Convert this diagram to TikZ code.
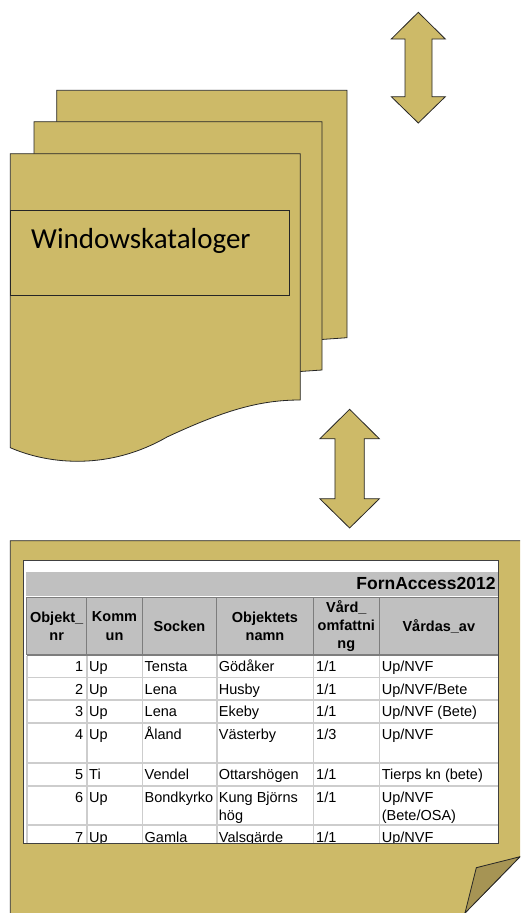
\documentclass[tikz,border=0pt]{standalone}
\usepackage{fontspec}
\usepackage{tikz}

\newfontfamily\tabfamily{Liberation Sans}
\newfontfamily\winfamily{Carlito}
\newcommand\tabfont{\tabfamily\fontsize{14.5}{18.3}\selectfont}
\newcommand\headfont{\tabfamily\bfseries\fontsize{14.5}{18.3}\selectfont}
\newcommand\titlefont{\tabfamily\bfseries\fontsize{17.5}{20}\selectfont}

\definecolor{gold}{RGB}{205,186,104}
\definecolor{golddark}{RGB}{166,148,84}
\definecolor{hdrgray}{RGB}{192,192,192}
\definecolor{gridgray}{RGB}{205,205,205}
\definecolor{hdrline}{RGB}{125,125,125}

\begin{document}
\begin{tikzpicture}[x=1pt,y=-1pt]
\tikzstyle{sheet}=[draw=black!85,fill=gold,line width=0.8pt];
\tikzstyle{blockarrow}=[draw=black!85,fill=gold,line width=0.8pt,line join=miter];
\tikzstyle{cell}=[font=\tabfont,inner sep=0pt];
\tikzstyle{num}=[cell,anchor=base east];
\tikzstyle{txt}=[cell,anchor=base west];
\tikzstyle{head}=[font=\headfont,align=center,inner sep=0pt];
\tikzstyle{hline}=[draw=hdrline,line width=1.3pt];
\tikzstyle{bline}=[draw=gridgray,line width=1.6pt];

\useasboundingbox (0,0) rectangle (520,913);
\clip (0,0) rectangle (520,913);

% stack of folders
\draw [sheet] (56.7,90.3) -- (347,90.3) -- (347,337.7) -- (300,341) -- (56.7,341) -- cycle;
\draw [sheet] (34,121.7) -- (322,121.7) -- (322,370) -- (300,371.5) -- (34,371.5) -- cycle;
\draw [sheet] (10.3,153.7) -- (300.3,153.7) -- (300.3,400)
  .. controls (260,400) and (225,410) .. (167,437)
  .. controls (110,470) and (50,465) .. (10.3,447.7) -- cycle;
\node [draw=black!85,line width=0.8pt,minimum width=279pt,minimum height=85.3pt,
  anchor=north west,inner sep=0pt] (katalog) at (10.3,210) {};
\node [font=\winfamily\fontsize{29}{32}\selectfont,anchor=base west,inner sep=0pt]
  (katalogtext) at (31,248) {Windowskataloger};

% double arrows
\draw [blockarrow] (418.3,12.3) -- (445.3,39) -- (432,39) -- (432,96.7) -- (445.3,96.7)
  -- (418.3,123) -- (391.3,96.7) -- (405,96.7) -- (405,39) -- (391.3,39) -- cycle;
\draw [blockarrow] (349.6,409.3) -- (379.4,438.8) -- (364.3,438.8) -- (364.3,498.7) -- (379.4,498.7)
  -- (349.6,528) -- (319.8,498.7) -- (334.9,498.7) -- (334.9,438.8) -- (319.8,438.8) -- cycle;

% note with folded corner
\draw [sheet] (10.3,540.7) -- (530,540.7) -- (530,846.5) -- (460.1,918) -- (10.3,918) -- cycle;
\draw [draw=black!85,fill=golddark,line width=0.8pt,line join=miter]
  (476.3,867.7) -- (520,856.7) -- (465,913) -- cycle;

% table
\draw [draw=black!75,fill=white,line width=0.9pt] (23.3,560.7) rectangle (498.3,843.3);
\begin{scope}
\clip (23.3,560.7) rectangle (498.3,843.3);
\fill [hdrgray] (26,572.3) rectangle (498.3,596);
\fill [hdrgray] (26.7,597.3) rectangle (498.3,655);
\draw [hline] (26.7,597.3) -- (498.3,597.3);
\draw [hline] (26.7,655) -- (498.3,655);
\draw [hline] (26.7,597.3) -- (26.7,655);
\draw [hline] (86.7,597.3) -- (86.7,655);
\draw [hline] (142.3,597.3) -- (142.3,655);
\draw [hline] (216.7,597.3) -- (216.7,655);
\draw [hline] (313.3,597.3) -- (313.3,655);
\draw [hline] (379.3,597.3) -- (379.3,655);

\draw [bline] (26.7,656) -- (26.7,843.3);
\draw [bline] (86.7,656) -- (86.7,843.3);
\draw [bline] (142.3,656) -- (142.3,843.3);
\draw [bline] (216.7,656) -- (216.7,843.3);
\draw [bline] (313.3,656) -- (313.3,843.3);
\draw [bline] (379.3,656) -- (379.3,843.3);
\draw [bline] (26.7,677.3) -- (498.3,677.3);
\draw [bline] (26.7,700) -- (498.3,700);
\draw [bline] (26.7,722.7) -- (498.3,722.7);
\draw [bline] (26.7,762.7) -- (498.3,762.7);
\draw [bline] (26.7,786) -- (498.3,786);
\draw [bline] (26.7,825) -- (498.3,825);

\node [font=\titlefont,anchor=base east,inner sep=0pt] (title) at (495.7,589.3) {FornAccess2012};

\node [head] (hObj) at (56.7,626) {Objekt\_\\nr};
\node [head] (hKom) at (114.5,626) {Komm\\un};
\node [head] (hSoc) at (179.5,626) {Socken};
\node [head] (hNamn) at (265,626) {Objektets\\namn};
\node [head] (hVard) at (346.3,626) {Vård\_\\omfattni\\ng};
\node [head] (hAv) at (438.8,626) {Vårdas\_av};

\node [num] (n1) at (83.3,671.7) {1};
\node [txt] (k1) at (89,671.7) {Up};
\node [txt] (s1) at (144.5,671.7) {Tensta};
\node [txt] (o1) at (218.7,671.7) {Gödåker};
\node [txt] (v1) at (316,671.7) {1/1};
\node [txt] (a1) at (381.7,671.7) {Up/NVF};

\node [num] (n2) at (83.3,694) {2};
\node [txt] (k2) at (89,694) {Up};
\node [txt] (s2) at (144.5,694) {Lena};
\node [txt] (o2) at (218.7,694) {Husby};
\node [txt] (v2) at (316,694) {1/1};
\node [txt] (a2) at (381.7,694) {Up/NVF/Bete};

\node [num] (n3) at (83.3,716.6) {3};
\node [txt] (k3) at (89,716.6) {Up};
\node [txt] (s3) at (144.5,716.6) {Lena};
\node [txt] (o3) at (218.7,716.6) {Ekeby};
\node [txt] (v3) at (316,716.6) {1/1};
\node [txt] (a3) at (381.7,716.6) {Up/NVF (Bete)};

\node [num] (n4) at (83.3,739.5) {4};
\node [txt] (k4) at (89,739.5) {Up};
\node [txt] (s4) at (144.5,739.5) {Åland};
\node [txt] (o4) at (218.7,739.5) {Västerby};
\node [txt] (v4) at (316,739.5) {1/3};
\node [txt] (a4) at (381.7,739.5) {Up/NVF};

\node [num] (n5) at (83.3,779.5) {5};
\node [txt] (k5) at (89,779.5) {Ti};
\node [txt] (s5) at (144.5,779.5) {Vendel};
\node [txt] (o5) at (218.7,779.5) {Ottarshögen};
\node [txt] (v5) at (316,779.5) {1/1};
\node [txt] (a5) at (381.7,779.5) {Tierps kn (bete)};

\node [num] (n6) at (83.3,802.6) {6};
\node [txt] (k6) at (89,802.6) {Up};
\node [txt] (s6) at (144.5,802.6) {Bondkyrko};
\node [txt] (o6) at (218.7,802.6) {Kung Björns};
\node [txt] (o6b) at (218.7,820.9) {hög};
\node [txt] (v6) at (316,802.6) {1/1};
\node [txt] (a6) at (381.7,802.6) {Up/NVF};
\node [txt] (a6b) at (381.7,820.9) {(Bete/OSA)};

\node [num] (n7) at (83.3,842) {7};
\node [txt] (k7) at (89,842) {Up};
\node [txt] (s7) at (144.5,842) {Gamla};
\node [txt] (o7) at (218.7,842) {Valsgärde};
\node [txt] (v7) at (316,842) {1/1};
\node [txt] (a7) at (381.7,842) {Up/NVF};
\end{scope}
\draw [draw=black!75,line width=0.9pt] (23.3,560.7) rectangle (498.3,843.3);
\end{tikzpicture}
\end{document}
